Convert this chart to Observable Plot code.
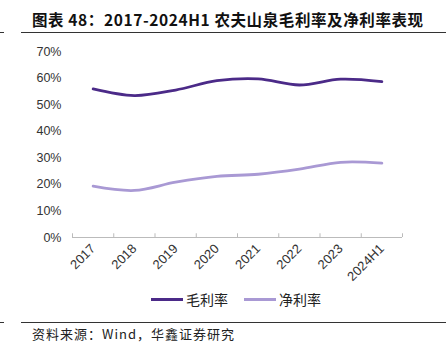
<!DOCTYPE html>
<html><head><meta charset="utf-8">
<script src="https://cdn.jsdelivr.net/npm/d3@7"></script>
<script src="https://cdn.jsdelivr.net/npm/@observablehq/plot@0.6"></script>
<style>
body{margin:0;background:#fff;}
#wrap{position:relative;width:446px;height:355px;overflow:hidden;font-family:"Noto Sans CJK SC",sans-serif;}
#title{position:absolute;left:32px;top:8px;font-size:15.5px;font-weight:bold;color:#111;white-space:nowrap;letter-spacing:0.6px;}
.hr{position:absolute;height:1px;background:#333;}
#chart{position:absolute;left:0;top:40px;}
#legend{position:absolute;top:289px;left:0;width:446px;height:20px;font-size:14px;color:#222;}
.sw{position:absolute;height:3px;top:9px;}
.lt{position:absolute;top:0;line-height:20px;}
#src{position:absolute;left:32px;top:324px;font-size:13px;color:#222;letter-spacing:1px;white-space:nowrap;}
</style></head>
<body><div id="wrap">
<div id="title"></div>
<div class="hr" style="left:0;width:4px;top:32px"></div>
<div class="hr" style="left:21px;width:425px;top:32px"></div>
<div id="chart"></div>
<div id="legend"></div>
<div class="hr" style="left:0;width:4px;top:322px"></div>
<div class="hr" style="left:21px;width:425px;top:322px"></div>
<div id="src"></div>
</div>
<script>
const titleText = "图表 48：2017-2024H1 农夫山泉毛利率及净利率表现";
const sourceText = "资料来源：Wind，华鑫证券研究";
const periods = ["2017","2018","2019","2020","2021","2022","2023","2024H1"];
const grossMargin = [55.9, 53.4, 55.5, 59.0, 59.7, 57.4, 59.6, 58.7];
const netMargin = [19.3, 17.7, 20.8, 23.0, 23.8, 25.7, 28.3, 28.0];
const seriesNames = ["毛利率","净利率"];
const seriesColors = ["#4b2a88","#a999d4"];
const yTicks = [0,10,20,30,40,50,60,70];

document.getElementById("title").textContent = titleText;
document.getElementById("src").textContent = sourceText;

const rows = [];
periods.forEach((p,i)=>{
  rows.push({i, period:p, series:seriesNames[0], v:grossMargin[i]});
  rows.push({i, period:p, series:seriesNames[1], v:netMargin[i]});
});
const idx = periods.map((_,i)=>i);
const bounds = d3.range(periods.length+1).map(k=>k-0.5);

const chart = Plot.plot({
  width:446, height:245,
  marginLeft:72, marginRight:44, marginTop:11, marginBottom:48,
  style:{fontFamily:"'Liberation Sans', Arial, sans-serif", fontSize:"12px", color:"#333", background:"transparent"},
  x:{type:"linear", domain:[-0.5, periods.length-0.5]},
  y:{domain:[0,70]},
  color:{domain:seriesNames, range:seriesColors},
  marks:[
    Plot.axisY({ticks:yTicks, tickSize:0, tickPadding:11, tickFormat:d=>d+"%", fontSize:12.5, label:null}),
    Plot.axisX({ticks:idx, tickSize:0, tickRotate:-45, tickPadding:9, tickFormat:i=>periods[i], fontSize:13, label:null}),
    Plot.ruleY([0], {stroke:"#bbb", strokeWidth:1}),
    Plot.ruleX(bounds, {x:d=>d, y1:0, y2:1.4, stroke:"#bbb", strokeWidth:1}),
    Plot.line(rows, {x:"i", y:"v", z:"series", stroke:"series", strokeWidth:2.8, curve:"catmull-rom"})
  ]
});
document.getElementById("chart").appendChild(chart);

const lg = document.getElementById("legend");
const legendPos = [151, 244];
seriesNames.forEach((n,k)=>{
  const sw = document.createElement("div");
  sw.className="sw"; sw.style.left=legendPos[k]+"px"; sw.style.width="32px"; sw.style.background=seriesColors[k];
  lg.appendChild(sw);
  const t = document.createElement("div");
  t.className="lt"; t.style.left=(legendPos[k]+35)+"px"; t.textContent=n;
  lg.appendChild(t);
});
</script>
</body></html>
